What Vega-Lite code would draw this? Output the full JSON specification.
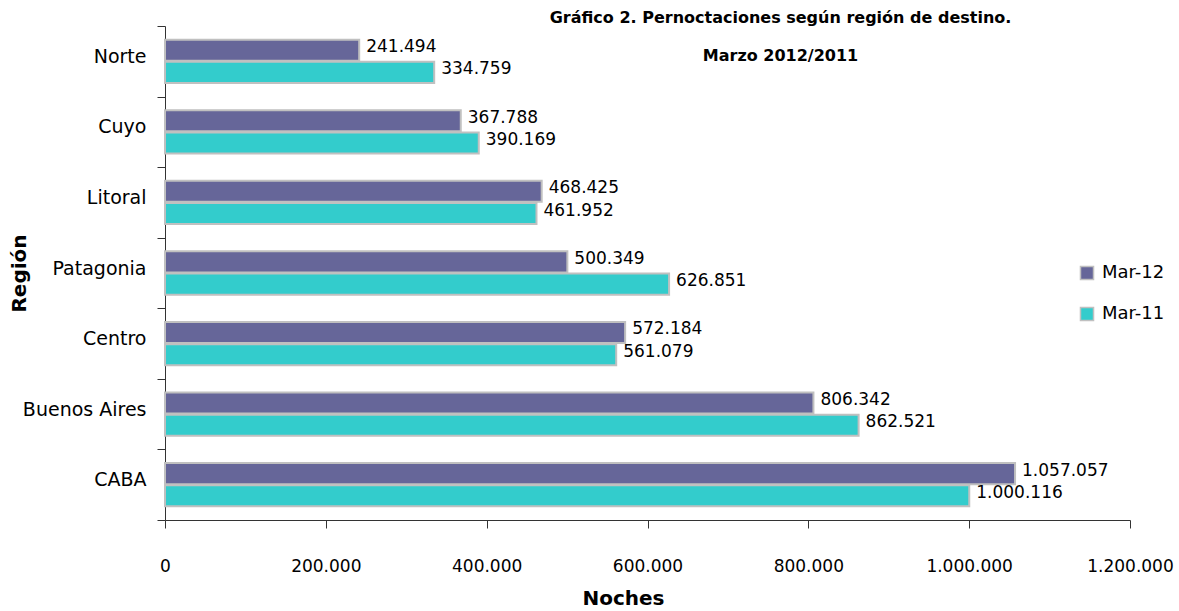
{
  "$schema": "https://vega.github.io/schema/vega-lite/v6.json",
  "width": 965,
  "height": 494,
  "autosize": {"type": "none"},
  "padding": {"left": 165, "top": 26, "right": 49, "bottom": 91},
  "background": "white",
  "title": {
    "text": "Gráfico 2. Pernoctaciones según región de destino.",
    "subtitle": "Marzo 2012/2011",
    "anchor": "middle",
    "dx": 133,
    "offset": -47,
    "font": "DejaVu Sans",
    "fontSize": 16,
    "fontWeight": "bold",
    "color": "#000",
    "subtitleFont": "DejaVu Sans",
    "subtitleFontSize": 16,
    "subtitleFontWeight": "bold",
    "subtitleColor": "#000",
    "subtitlePadding": 22
  },
  "data": {
    "values": [
      {"Region": "Norte", "Serie": "Mar-12", "Noches": 241494},
      {"Region": "Norte", "Serie": "Mar-11", "Noches": 334759},
      {"Region": "Cuyo", "Serie": "Mar-12", "Noches": 367788},
      {"Region": "Cuyo", "Serie": "Mar-11", "Noches": 390169},
      {"Region": "Litoral ", "Serie": "Mar-12", "Noches": 468425},
      {"Region": "Litoral ", "Serie": "Mar-11", "Noches": 461952},
      {"Region": "Patagonia", "Serie": "Mar-12", "Noches": 500349},
      {"Region": "Patagonia", "Serie": "Mar-11", "Noches": 626851},
      {"Region": "Centro", "Serie": "Mar-12", "Noches": 572184},
      {"Region": "Centro", "Serie": "Mar-11", "Noches": 561079},
      {"Region": "Buenos Aires", "Serie": "Mar-12", "Noches": 806342},
      {"Region": "Buenos Aires", "Serie": "Mar-11", "Noches": 862521},
      {"Region": "CABA", "Serie": "Mar-12", "Noches": 1057057},
      {"Region": "CABA", "Serie": "Mar-11", "Noches": 1000116}
    ]
  },
  "encoding": {
    "y": {
      "field": "Region",
      "type": "nominal",
      "sort": null,
      "scale": {"paddingInner": 0, "paddingOuter": 0},
      "axis": {
        "title": "Región",
        "titleFont": "DejaVu Sans",
        "titleFontSize": 20,
        "titleFontWeight": "bold",
        "titleColor": "#000",
        "titleX": -136,
        "labelFont": "DejaVu Sans",
        "labelFontSize": 19,
        "labelColor": "#000",
        "labelPadding": 11,
        "labelOffset": -5,
        "tickBand": "extent",
        "tickSize": 8,
        "tickColor": "#333",
        "domainColor": "#333",
        "grid": false
      }
    },
    "yOffset": {
      "field": "Serie",
      "type": "nominal",
      "sort": ["Mar-12", "Mar-11"],
      "scale": {"paddingInner": 0.05, "paddingOuter": 0.615}
    },
    "x": {
      "field": "Noches",
      "type": "quantitative",
      "scale": {"domain": [0, 1200000], "nice": false},
      "axis": {
        "title": "Noches",
        "titleFont": "DejaVu Sans",
        "titleFontSize": 20,
        "titleFontWeight": "bold",
        "titleColor": "#000",
        "titleX": 458,
        "titlePadding": 14,
        "values": [0, 200000, 400000, 600000, 800000, 1000000, 1200000],
        "format": ",d",
        "labelFont": "DejaVu Sans",
        "labelFontSize": 17,
        "labelColor": "#000",
        "labelPadding": 30,
        "labelFlush": false,
        "tickSize": 8,
        "tickColor": "#333",
        "domainColor": "#333",
        "grid": false
      }
    }
  },
  "layer": [
    {
      "mark": {"type": "bar", "stroke": "#c0c0c0", "strokeWidth": 2},
      "encoding": {
        "color": {
          "field": "Serie",
          "type": "nominal",
          "sort": ["Mar-12", "Mar-11"],
          "scale": {"domain": ["Mar-12", "Mar-11"], "range": ["#666699", "#33cccc"]},
          "legend": {
            "title": null,
            "orient": "none",
            "legendX": 913,
            "legendY": 238,
            "symbolType": "square",
            "symbolSize": 170,
            "symbolStrokeColor": "#c0c0c0",
            "symbolStrokeWidth": 1.5,
            "labelFont": "DejaVu Sans",
            "labelFontSize": 18,
            "labelColor": "#000",
            "rowPadding": 21,
            "labelOffset": 6
          }
        }
      }
    },
    {
      "mark": {"type": "text", "align": "left", "baseline": "middle", "dx": 7, "dy": -3, "font": "DejaVu Sans", "fontSize": 17, "color": "#000"},
      "encoding": {
        "text": {"field": "Noches", "type": "quantitative", "format": ",d"}
      }
    }
  ],
  "config": {
    "view": {"stroke": null},
    "locale": {"number": {"decimal": ",", "thousands": ".", "grouping": [3], "currency": ["$", ""]}}
  }
}
